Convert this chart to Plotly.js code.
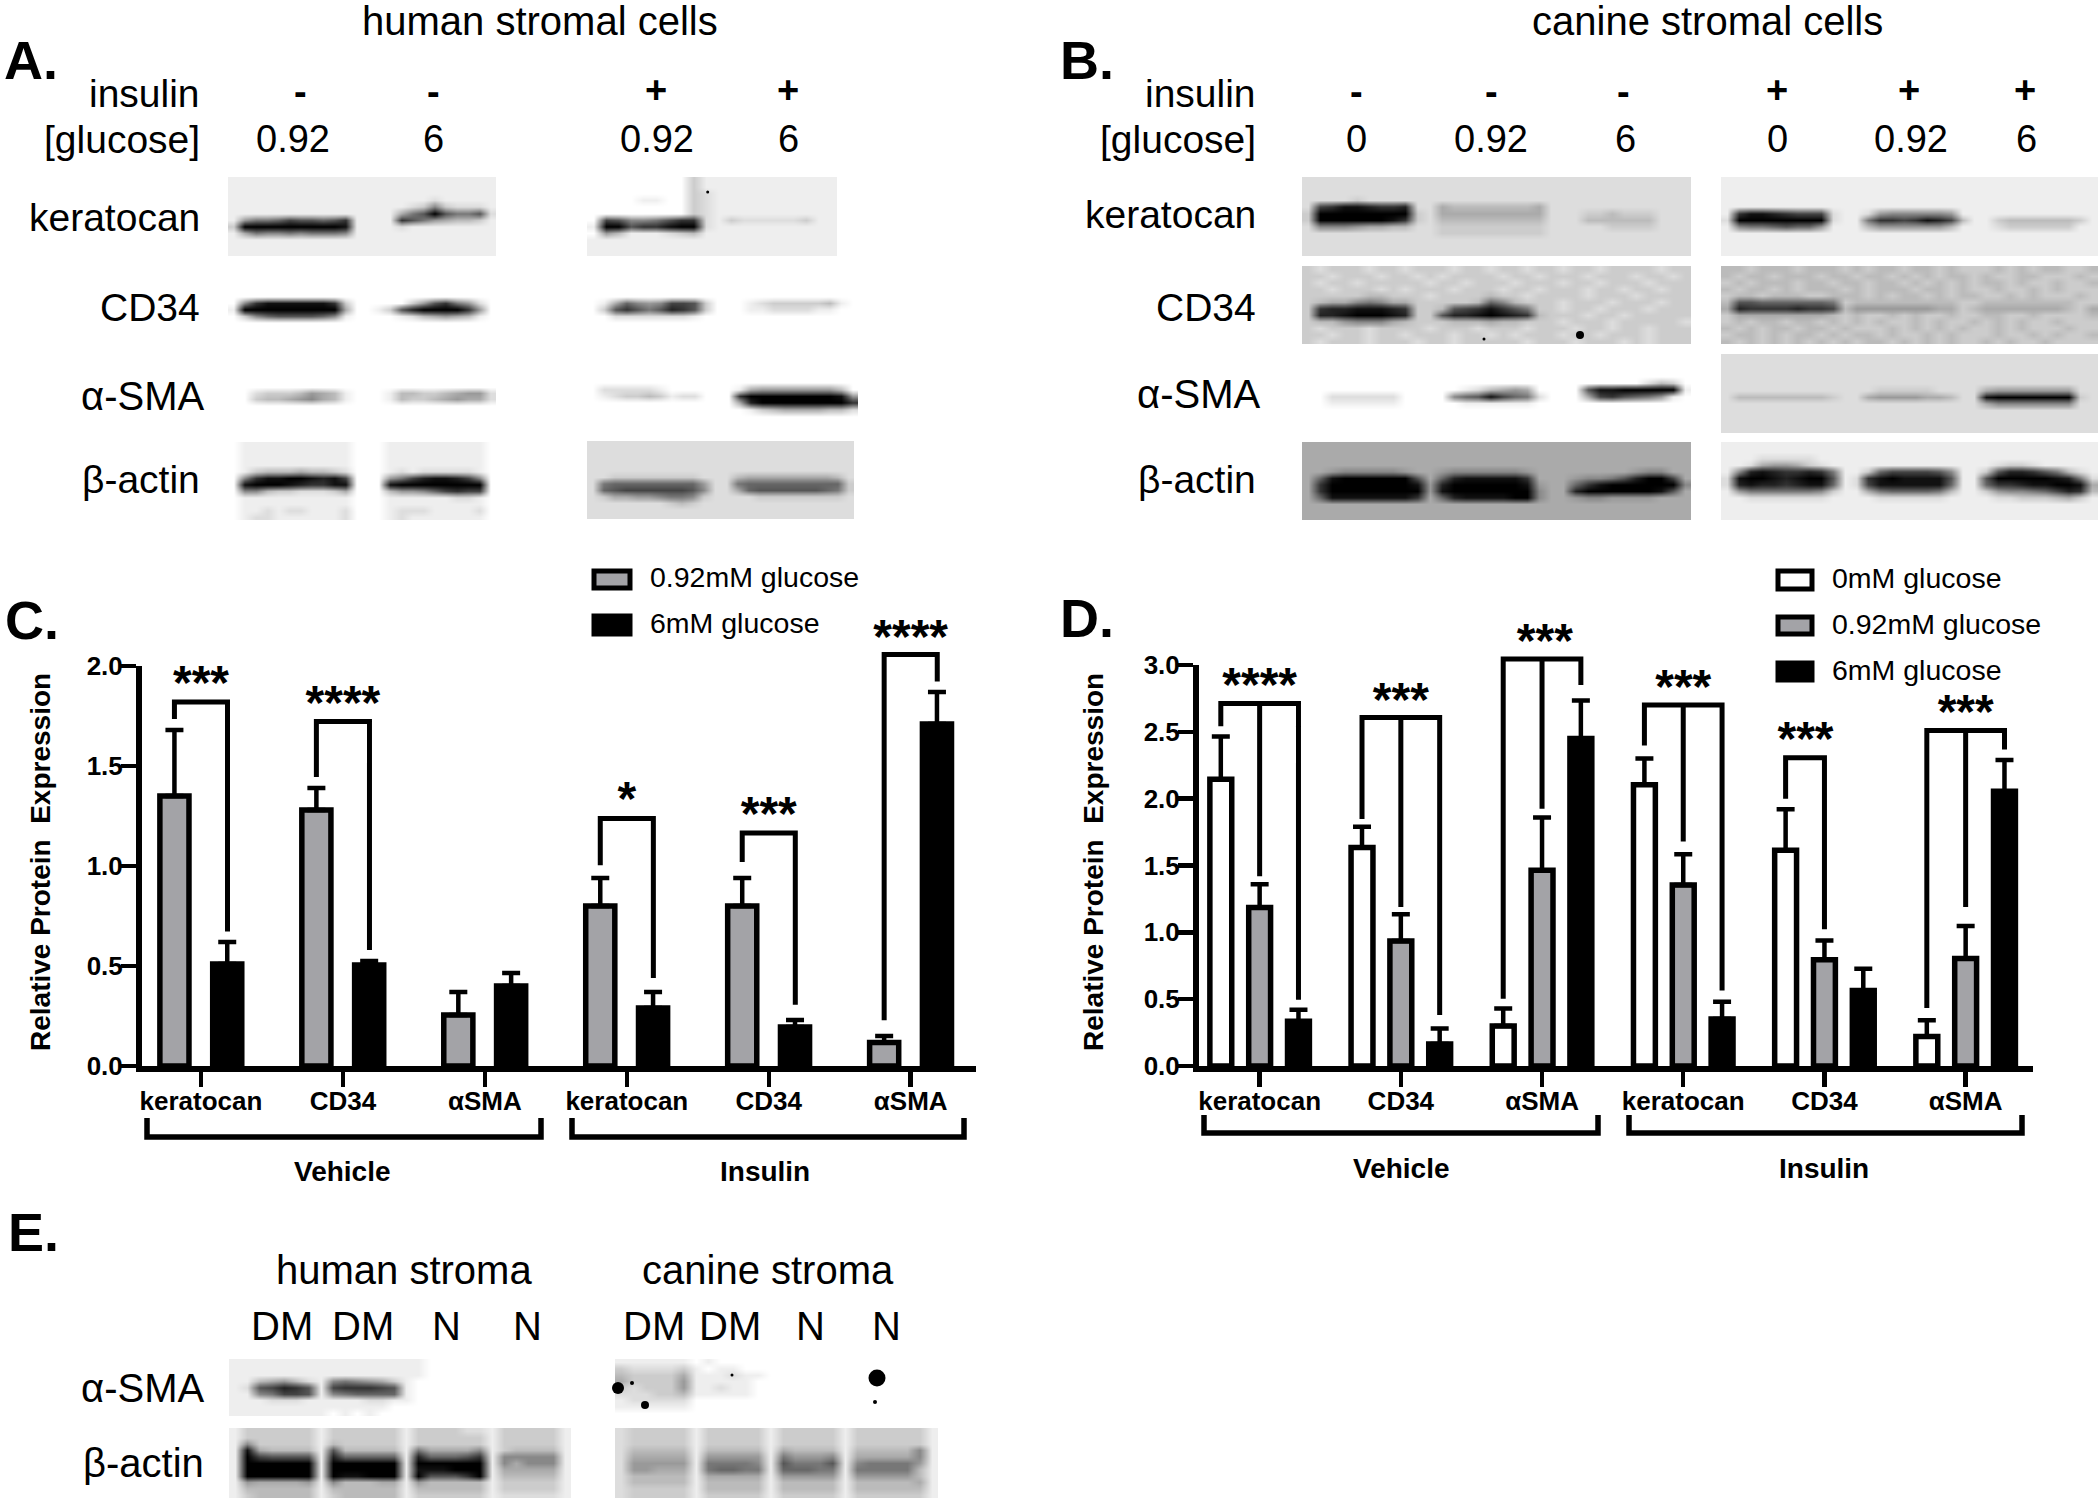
<!DOCTYPE html>
<html>
<head>
<meta charset="utf-8">
<script src="https://cdn.plot.ly/plotly-3.0.1.min.js"></script>
<style>html, body { margin: 0; background: #fff; }</style>
</head>
<body>
<div id="chart"></div>
<script>
// Stromal cell blots and densitometry bars

const W = 2100, H = 1500;

// ---- bar chart values, panel C (human) ----
const categories = ['keratocan', 'CD34', 'αSMA', 'keratocan', 'CD34', 'αSMA'];
const grayC = [1.35, 1.28, 0.255, 0.80, 0.80, 0.117];
const grayErrC = [0.33, 0.11, 0.115, 0.14, 0.14, 0.033];
const blackC = [0.51, 0.505, 0.40, 0.29, 0.195, 1.71];
const blackErrC = [0.11, 0.02, 0.065, 0.08, 0.035, 0.16];

// ---- bar chart values, panel D (canine) ----
const whiteD = [2.145, 1.635, 0.30, 2.105, 1.615, 0.22];
const whiteErrD = [0.32, 0.155, 0.13, 0.195, 0.305, 0.122];
const grayD = [1.185, 0.935, 1.465, 1.355, 0.795, 0.805];
const grayErrD = [0.175, 0.20, 0.395, 0.23, 0.143, 0.243];
const blackD = [0.335, 0.165, 2.45, 0.352, 0.565, 2.055];
const blackErrD = [0.085, 0.115, 0.285, 0.128, 0.162, 0.235];

// ---- significance brackets: category, leg ends, bracket top, stars ----
const bracketCatC = [0, 1, 3, 4, 5];
const bracketLeftC = [1.735, 1.445, 1.004, 1.02, 0.229];
const bracketTopC = [1.82, 1.722, 1.237, 1.165, 2.057];
const bracketRightC = [0.673, 0.58, 0.44, 0.306, 1.922];
const starTextC = ['***', '****', '*', '***', '****'];
const starYC = [1.953, 1.853, 1.371, 1.30, 2.184];

const bracketCatD = [0, 1, 2, 3, 4, 5];
const bracketLeftD = [2.541, 1.848, 0.504, 2.398, 2.0, 0.434];
const bracketTopD = [2.712, 2.608, 3.045, 2.70, 2.306, 2.51];
const bracketMidD = [1.42, 1.19, 1.924, 1.68, 1.023, 1.19];
const bracketRightD = [0.495, 0.382, 2.85, 0.565, null, 2.367];
const starTextD = ['****', '***', '***', '***', '***', '***'];
const starXD = [0, 1, 2.02, 3, 3.866, 5];
const starYD = [2.908, 2.798, 3.238, 2.892, 2.505, 2.703];

// ---- blot densities, one hex digit per cell, 0 black, f white ----
const aKeratocanMinus = [
  'eeeeee eeeeee eeeeee eeeeee', 'eeeeee eeeeee eeeeee eeeeee', 'eeeeee eeeeee eeeeee eeeeee',
  'eeeeee eeeeee eeeeee deeeee', 'eeeeee eeeeee eeeedc 8cddde', 'eeeeee eeeeee eeea75 05775d',
  'e97764 55653e eee357 9abbce', 'c00000 00001e eeedee eeeeee', 'ea7887 87778e eeeeee eeeeee',
  'eeeeee eeeeee eeeeee eeeeee', 'eeeeee eeeeee eeeeee eeeeee', 'eeeeee eeeeee eeeeee eeeeee'];
const aCd34Minus = [
  'ffffff ffffff ffffff ffffff', 'ffffff ffffff ffffff ffffff', 'ffffff ffffff ffffff ffffff',
  'ffffff ffffff ffffff ffffff', 'ffffff ffffff ffffff ffffff', 'f83111 1113cf ffffc9 5379df',
  'e00000 0000af fec520 00039f', 'fc8655 5568ef fffedb a9abef', 'ffffff ffffff ffffff ffffff',
  'ffffff ffffff ffffff ffffff', 'ffffff ffffff ffffff ffffff', 'ffffff ffffff ffffff ffffff'];
const aSmaMinus = [
  'ffffff ffffff ffffff ffffff', 'ffffff ffffff ffffff ffffff', 'ffffff ffffff ffffff ffffff',
  'ffffff ffffff ffffff ffffff', 'ffffff ffffff ffffff ffffff', 'ffffff ffffff ffffff ffffff',
  'ffdccc b9abef ffebbc cba99d', 'ffcbba 98abef ffebcc ba9aad', 'ffffff ffffff ffffff ffffff',
  'ffffff ffffff ffffff ffffff', 'ffffff ffffff ffffff ffffff', 'ffffff ffffff ffffff ffffff'];
const aActinMinus = [
  'feeeee eeeeef ffeeee eeeeef', 'feeeee eeeeef ffeeee eeeeef', 'feeeee eeeeef ffeeee eeeeef',
  'feeeee eeeeef ffeeee eeeeef', 'fecbbb abbcdf ffeded ddddef', 'f83110 01214f ff9742 11248f',
  'f10001 23311f ff1000 00000f', 'f88bcc dddcaf ffb998 64344f', 'feeeee eeeeef ffeeee eeddef',
  'feeeee eeeeef ffeeee eeeeef', 'feeded deeedf ffeddd eeeedf', 'feddee eeeedf ffedee eeeeef'];

const aKeratocanPlus = [
  'ffffffffce eeeeeeeeee', 'ffffffffce eeeeeeeeee', 'ffffffffcd eeeeeeeeee',
  'ffffeeffcd eeeeeeeeee', 'ffffffffcd eeeeeeeeee', 'ffffffffcd eeeeeeeeee',
  'f45887533d ecdddddcee', 'e00533100d eeeeeeeeee', 'f9beeedcbe eeeeeeeeee',
  'eeeeeeeeee eeeeeeeeee', 'eeeeeeeeee eeeeeeeeee', 'eeeeeeeeee eeeeeeeeee'];
const aCd34Plus = [
  'ffffff ffffff ffffff ffffff', 'ffffff ffffff ffffff ffffff', 'ffffff ffffff ffffff ffffff',
  'ffffff ffffff ffffff ffffff', 'ffffff ffffff ffffff ffffff', 'fea689 8445cf ffedcc cccbef',
  'fc5357 5235cf ffeedd ddeeff', 'ffdddd dddeff ffffff ffffff', 'ffffff ffffff ffffff ffffff',
  'ffffff ffffff ffffff ffffff', 'ffffff ffffff ffffff ffffff', 'ffffff ffffff ffffff ffffff'];
const aSmaPlus = [
  'ffffff ffffff ffffff ffffff', 'ffffff ffffff ffffff ffffff', 'ffffff ffffff ffffff ffffff',
  'ffffff ffffff ffffff ffffff', 'ffffff ffffff ffffff ffffff', 'fddddd efffff fea999 9999bf',
  'fedccb ceddff f30000 000019', 'ffffff ffffff fa2000 000003', 'ffffff ffffff ffecba aaabbd',
  'ffffff ffffff ffffff ffffff', 'ffffff ffffff ffffff ffffff', 'ffffff ffffff ffffff ffffff'];
const aActinPlus = [
  'dddddd dddddd dddddd dddddd', 'dddddd dddddd dddddd dddddd', 'dddddd dddddd dddddd dddddd',
  'dddddd dddddd dddddd dddddd', 'dddddd dddddd dddddd dddddd', 'ddcccc ccccdd dbaaaa aaaabd',
  'd76666 66669d d76666 66666c', 'd65444 44458d da6555 55567c', 'dcaa99 8778cd dddccc cccccd',
  'dddddd dcbcdd dddddd dddddd', 'dddddd dddddd dddddd dddddd', 'dddddd dddddd dddddd dddddd'];

const bKeratocanMinus = [
  'dddddddd dddddddd dddddddd dddddddd', 'dddddddd dddddddd dddddddd dddddddd', 'dddddddd dddddddd dddddddd dddddddd',
  'ddddcddd dddddddd dddddddd dddddddd', 'd4311233 2ddabbbb bbbadddd dddddddd', 'c0000000 0cdaaaaa aaaadddc cbcccddd',
  'c0000001 3cdbbbbb bbbbdddb bbbbbddd', 'd8889aab bddccccc ccccdddd dccccddd', 'dddddddd dddccccc ccccdddd dddddddd',
  'dddddddd dddddddd dddddddd dddddddd', 'dddddddd dddddddd dddddddd dddddddd', 'dddddddd dddddddd dddddddd dddddddd'];
const bCd34Minus = [
  'cdcccdcc dcccdccd ccdccdcc dccccdcc', 'ccdcccdc cdcdcccc dccdcccd cccdccdc', 'cdccdccc ccdccdcc cdcccdcc dcccdccc',
  'ccdcccdc dcccdccc dccdcccd ccdccdcc', 'cccccbbc ccdccccb ccdccccd cccdcccc', 'cbaa878a acccccb6 8bcccdcc cdcccdcc',
  'c3221112 3ccb5431 357ccdcc dcccdccc', 'c2210001 2cc52210 123bcccd ccdccccc', 'cbb9888a bcccbbba bbcccdcc cdcccccd',
  'cdcccdcc ccdcccdc ccdcccdc cdccdccc', 'ccdccdcc dcccdccd cdcccdcc dcccdccc', 'cdcccdcc cdccdccc ccdcccdc ccdcdccc'];
const bSmaMinus = [
  'ffffffff ffffffff ffffffff ffffffff', 'ffffffff ffffffff ffffffff ffffffff', 'ffffffff ffffffff ffffffff ffffffff',
  'ffffffff ffffffff ffffffff ffffffff', 'ffffffff ffffffff ffffffff ffffdbcf', 'ffffffff fffffedb a9affff5 1100000e',
  'ffdddddd ffff8651 467dfffa 435679ef', 'ffeeeeee fffffeee eeefffff ffffffff', 'ffffffff ffffffff ffffffff ffffffff',
  'ffffffff ffffffff ffffffff ffffffff', 'ffffffff ffffffff ffffffff ffffffff', 'ffffffff ffffffff ffffffff ffffffff'];
const bActinMinus = [
  'aaaaaaaa aaaaaaaa aaaaaaaa aaaaaaaa', 'aaaaaaaa aaaaaaaa aaaaaaaa aaaaaaaa', 'aaaaaaaa aaaaaaaa aaaaaaaa aaaaaaaa',
  'aaaaaaaa aaaaaaaa aaaaaaaa aaaaaaaa', 'aa988888 9aa98888 889aaaaa aaa988aa', 'a6100000 05a62111 113aaa98 8752004a',
  'a3000000 01920000 0019aa63 10000008', 'a3000000 00910000 0008aa20 0000015a', 'a6111111 13a62111 1008aa98 89999aaa',
  'aaaaaaaa aaaaaaaa aaaaaaaa aaaaaaaa', 'aaaaaaaa aaaaaaaa aaaaaaaa aaaaaaaa', 'aaaaaaaa aaaaaaaa aaaaaaaa aaaaaaaa'];

const bKeratocanPlus = [
  'eeeeeeee eeeeeeee eeeeeeee eeeeeeee', 'eeeeeeee eeeeeeee eeeeeeee eeeeeeee', 'eeeeeeee eeeeeeee eeeeeeee eeeeeeee',
  'eeeeeeee eeeeeeee eeeeeeee eeeeeeee', 'eeeeeeee eeeeeeee eeeeeeee eeeeeeee', 'e3112344 4deed988 8889eeee eeeeeeee',
  'd0000000 0dee7334 3124beec bbbbbbce', 'e8776566 9eeeb999 999beeed ccccccee', 'eeeeeeee eeeeeeee eeeeeeee eeeeeeee',
  'eeeeeeee eeeeeeee eeeeeeee eeeeeeee', 'eeeeeeee eeeeeeee eeeeeeee eeeeeeee', 'eeeeeeee eeeeeeee eeeeeeee eeeeeeee'];
const bCd34Plus = [
  'bbcbbbcb bbcbcbbc bbcbcccb cbcbbccb', 'bcbbcbbb cbbcbbcb cbcbbcbc cbbcccbc', 'cbcbbbcb bcbbcbbc bcbcbcbb cbccbccb',
  'bcbbcbcb bbcbcbbb cbbcbccb ccbcbccc', 'cbbcbbbc cbbbcbcb bcbcbbcc bcbcccbc', 'b5566666 67cbbbbb bbbbccbb bbbbbbcc',
  'a2333323 34b99999 99aacbaa aaaaabca', 'caaaaaaa abcbccbc bccbccbb ccbccccb', 'cbcbbcbb cbcbcbcc bcbccbcb cbccbccc',
  'bcbcbbcb bcbcccbc bcbcbccb cbcccbcc', 'cbbcbcbb cbcbbcbc cbcbcccb ccbcbccb', 'bcbcbcbc bcbcbbcb cbcbccbc bccbcccc'];
const bSmaPlus = [
  'dddddddd dddddddd dddddddd dddddddd', 'dddddddd dddddddd dddddddd dddddddd', 'dddddddd dddddddd dddddddd dddddddd',
  'dddddddd dddddddd dddddddd dddddddd', 'dddddddd dddddddd dddddddd dddddddd', 'dddddddd dddddccc ccdddda9 999999dd',
  'dbbbbbbb bcdda999 9aabdd10 000000cd', 'dddddddd dddddddd dddddda8 888888dd', 'dddddddd dddddddd dddddddd dddddddd',
  'dddddddd dddddddd dddddddd dddddddd', 'dddddddd dddddddd dddddddd dddddddd', 'dddddddd dddddddd dddddddd dddddddd'];
const bActinPlus = [
  'eeeeeeee eeeeeeee eeeeeeee eeeeeeee', 'eeeeeeee eeeeeeee eeeeeeee eeeeeeee', 'eeeddddd eeeeeeee eeeeeeee eeeeeeee',
  'eeda99ac deeeeeee eeeeeeed ccdeeeee', 'e8212332 37eec644 4458eec5 22357bde', 'd1001210 05ed3101 1115ee50 0000127d',
  'd2122321 16ed4111 1116ee63 3211001a', 'e9777777 8ceea766 667beec9 8876423b', 'eedddddd deeeeddd dddeeeed dcccbace',
  'eeeeeeee eeeeeeee eeeeeeee eeeeeeee', 'eeeeeeee eeeeeeee eeeeeeee eeeeeeee', 'eeeeeeee eeeeeeee eeeeeeee eeeeeeee'];

const eSmaHuman = [
  'eeeeeee eeeeeee eefffff fffffff', 'eeeeeee eeeeeee eefffff fffffff', 'eeeeeee eeeeeee eefffff fffffff',
  'eeba9bd e8789ac effffff fffffff', 'ed54235 e433345 effffff fffffff', 'ee87445 e876666 effffff fffffff',
  'eeeddde eeeedde effffff fffffff', 'eeeeeee eeeeeef fffffff fffffff', 'eeeeeee efefeff fffffff fffffff'];
const eActinHuman = [
  'e cccccc e cccccc e ccccdd e ccccc e', 'e cccccc e cccccc e cccccc e ccccc e', 'e 8ccccc e bccccc e cccccc e ccccc e',
  'e 1abbbb e 5bbbbb e 7aaaa8 e cbbbb e', 'e 045555 e 266666 e 266653 e 88888 e', 'e 000000 e 000000 e 000000 e 8a888 e',
  'e 000000 e 000000 e 111000 e aaaaa e', 'e 000000 e 011000 e 055530 e bbbbb e', 'e 9aaaa9 e 8bbbaa e 9bbbbb e ccccc e',
  'e bbbbbb e bbbbbb e bbbbbb e ccccc e', 'e cbbbbb e cbbbbb e cccccc e ddddd e'];
const eSmaCanine = [
  'eeeee efeff fffff fffff ffffff', 'cdddd cefee fffff fffff ffffff', 'bcccc aeeed eefff fffff ffffff',
  'acccc 9eeee effff fffff ffffff', 'cdccc 9eede effff fffff ffffff', 'dddcc beeee effff fffff ffffff',
  'edddd dffff fffff fffff ffffff', 'eeeee effff fffff fffff ffffff', 'fffff fffff fffff fffff ffffff'];
const eActinCanine = [
  'd ccccc e ccccc e ccccc e ccccc c e', 'd ccccc e ccccc e ccccc e ccccc c e', 'd ccccc e ccccc e ccccc e ccccc c e',
  'd bbbbb e bbbbb e abbbb e bbbbb 8 e', 'd aaaaa e 99999 e 79998 e aaaaa 8 e', 'd 99999 e 77778 e 57775 e 87777 9 e',
  'd 99aaa e 76677 e 66677 e 77777 b e', 'd bbbbb e aaaaa e 99999 e 99999 b e', 'd bbbbb e bbbbb e bbbbb e bbbbb a e',
  'd ccccc e bbbbb e bbbbb e bbbbb b e', 'd ccccc e ccccc e ccccc e ccccc c e'];

// small dark specks on the blots
const speckX = [707.7, 1580, 1484, 618, 632, 645, 732, 875, 877];
const speckY = [192, 335, 339, 1388, 1383, 1405, 1375, 1402, 1378];
const speckSize = [3, 8, 3, 12, 4, 8, 3, 4, 17];

// rows: [density table, left, top, right, bottom] in page pixels
const blots = [
  [aKeratocanMinus, 228, 177, 496, 256], [aCd34Minus, 228, 267, 496, 345],
  [aSmaMinus, 228, 353, 496, 427], [aActinMinus, 228, 442, 496, 520],
  [aKeratocanPlus, 587, 177, 837, 256], [aCd34Plus, 587, 267, 858, 345],
  [aSmaPlus, 587, 352, 858, 433], [aActinPlus, 587, 441, 854, 519],
  [bKeratocanMinus, 1302, 177, 1691, 256], [bCd34Minus, 1302, 266, 1691, 344],
  [bSmaMinus, 1302, 353, 1691, 433], [bActinMinus, 1302, 442, 1691, 520],
  [bKeratocanPlus, 1721, 177, 2098, 256], [bCd34Plus, 1721, 266, 2098, 344],
  [bSmaPlus, 1721, 354, 2098, 433], [bActinPlus, 1721, 442, 2098, 520],
  [eSmaHuman, 229, 1359, 571, 1416], [eActinHuman, 229, 1428, 571, 1498],
  [eSmaCanine, 615, 1359, 938, 1416], [eActinCanine, 615, 1428, 938, 1498]
];

// text: [string, x, y, size, anchor, bold]
const texts = [
  ['human stromal cells', 540, 21, 40, 'center'], ['canine stromal cells', 1707, 21, 40, 'center'],
  ['A.', 2, 60, 54, 'left', 1], ['B.', 1058, 60, 54, 'left', 1], ['C.', 3, 620, 54, 'left', 1],
  ['D.', 1058, 618, 54, 'left', 1], ['E.', 6, 1232, 54, 'left', 1],
  ['insulin', 202, 94, 39, 'right'], ['[glucose]', 202, 139, 39, 'right'],
  ['-', 300, 92, 38, 'center', 1], ['-', 433, 92, 38, 'center', 1], ['+', 656, 90, 38, 'center', 1], ['+', 788, 90, 38, 'center', 1],
  ['0.92', 293, 139, 38, 'center'], ['6', 433, 139, 38, 'center'], ['0.92', 657, 139, 38, 'center'], ['6', 788, 139, 38, 'center'],
  ['keratocan', 202, 218, 39, 'right'], ['CD34', 202, 307, 39, 'right'], ['α-SMA', 206, 396, 40, 'right'], ['β-actin', 202, 479, 39, 'right'],
  ['insulin', 1258, 94, 39, 'right'], ['[glucose]', 1258, 139, 39, 'right'],
  ['-', 1356, 92, 38, 'center', 1], ['-', 1491, 92, 38, 'center', 1], ['-', 1623, 92, 38, 'center', 1],
  ['+', 1777, 90, 38, 'center', 1], ['+', 1909, 90, 38, 'center', 1], ['+', 2025, 90, 38, 'center', 1],
  ['0', 1356, 139, 38, 'center'], ['0.92', 1491, 139, 38, 'center'], ['6', 1625, 139, 38, 'center'],
  ['0', 1777, 139, 38, 'center'], ['0.92', 1911, 139, 38, 'center'], ['6', 2026, 139, 38, 'center'],
  ['keratocan', 1258, 215, 39, 'right'], ['CD34', 1258, 307, 39, 'right'], ['α-SMA', 1262, 394, 40, 'right'], ['β-actin', 1258, 479, 39, 'right'],
  ['human stroma', 404, 1270, 40, 'center'], ['canine stroma', 768, 1270, 40, 'center'],
  ['DM', 282, 1326, 40, 'center'], ['DM', 363, 1326, 40, 'center'], ['N', 446, 1326, 40, 'center'], ['N', 527, 1326, 40, 'center'],
  ['DM', 654, 1326, 40, 'center'], ['DM', 730, 1326, 40, 'center'], ['N', 810, 1326, 40, 'center'], ['N', 886, 1326, 40, 'center'],
  ['α-SMA', 206, 1388, 40, 'right'], ['β-actin', 206, 1463, 40, 'right'],
  ['Vehicle', 342, 1171, 28, 'center', 1], ['Insulin', 765, 1171, 28, 'center', 1],
  ['Vehicle', 1401, 1168, 28, 'center', 1], ['Insulin', 1824, 1168, 28, 'center', 1],
  ['0.92mM glucose', 648, 577, 28.5, 'left'], ['6mM glucose', 648, 623, 28.5, 'left'],
  ['0mM glucose', 1830, 578, 28.5, 'left'], ['0.92mM glucose', 1830, 624, 28.5, 'left'], ['6mM glucose', 1830, 670, 28.5, 'left']
];

const FONT = '"Liberation Sans", Arial, sans-serif';
const GRAY = '#a3a3a7';

function toCells(rows) {
  return rows.map(r => Array.from(r.replace(/ /g, ''), c => parseInt(c, 16)));
}

function blotTrace(b) {
  let z = toCells(b[0]);
  z.forEach((row, i) => {
    if (row.length !== z[0].length || row.some(isNaN)) throw new Error('bad blot row ' + i + ': ' + b[0][i]);
  });
  let dx = (b[3] - b[1]) / z[0].length, dy = (b[4] - b[2]) / z.length;
  return {
    type: 'heatmap', z: z, x0: b[1] + dx / 2, dx: dx, y0: b[2] + dy / 2, dy: dy,
    zmin: 0, zmax: 15, zsmooth: 'best', showscale: false, hoverinfo: 'skip',
    colorscale: [[0, '#000'], [1, '#fff']], xaxis: 'x', yaxis: 'y'
  };
}

function barTrace(axis, y, err, fill, center, width) {
  return {
    type: 'bar', x: [0, 1, 2, 3, 4, 5], y: y, width: width, offset: center - width / 2,
    marker: {color: fill, line: {color: '#000', width: 5.5}},
    error_y: {type: 'data', symmetric: false, array: err, arrayminus: err.map(() => 0), color: '#000', thickness: 4.5, width: 9},
    xaxis: 'x' + axis, yaxis: 'y' + axis, hoverinfo: 'skip', showlegend: false
  };
}

// brackets and stars go on a taller hidden y axis, they rise above the drawn axis
function bracketTrace(xAxis, yAxis, x, y) {
  return {
    type: 'scatter', mode: 'lines', x: x, y: y, xaxis: xAxis, yaxis: yAxis,
    line: {color: '#000', width: 5}, cliponaxis: false, hoverinfo: 'skip', showlegend: false
  };
}

function starTrace(xAxis, yAxis, x, y, text, drop) {
  return {
    type: 'scatter', mode: 'text', x: x, y: y.map(v => v - drop), text: text, textposition: 'middle center',
    textfont: {family: FONT, size: 48, color: '#000', weight: 700},
    xaxis: xAxis, yaxis: yAxis, cliponaxis: false, hoverinfo: 'skip', showlegend: false
  };
}

function bracketsC() {
  return bracketCatC.map((c, i) => bracketTrace('x2', 'y4',
    [c - 0.187, c - 0.187, c + 0.187, c + 0.187],
    [bracketLeftC[i], bracketTopC[i], bracketTopC[i], bracketRightC[i]]));
}

function bracketsD() {
  return bracketCatD.map((c, i) => {
    // the fifth bracket only spans white to gray
    if (bracketRightD[i] === null) {
      return bracketTrace('x3', 'y5', [c - 0.275, c - 0.275, c, c], [bracketLeftD[i], bracketTopD[i], bracketTopD[i], bracketMidD[i]]);
    }
    return bracketTrace('x3', 'y5',
      [c - 0.275, c - 0.275, c + 0.275, c + 0.275, null, c, c],
      [bracketLeftD[i], bracketTopD[i], bracketTopD[i], bracketRightD[i], null, bracketTopD[i], bracketMidD[i]]);
  });
}

const px = x => x / W;
const py = y => 1 - y / H;

function chartAxes(left, right, top, bottom, xRange, yMax, axis) {
  let common = {showgrid: false, zeroline: false, showline: true, linecolor: '#000', linewidth: 5.5,
    ticks: 'outside', tickcolor: '#000', tickwidth: 4.5, ticklen: 15};
  return [
    Object.assign({}, common, {
      domain: [px(left), px(right)], range: xRange, anchor: 'y' + axis,
      tickvals: [0, 1, 2, 3, 4, 5], ticktext: categories, ticklabelstandoff: -8,
      tickfont: {family: FONT, size: 26, color: '#000', weight: 700}
    }),
    Object.assign({}, common, {
      domain: [py(bottom), py(top)], range: [0, yMax], anchor: 'x' + axis,
      dtick: 0.5, tickformat: '.1f', ticklabelstandoff: -7,
      tickfont: {family: FONT, size: 26, color: '#000', weight: 700}
    })
  ];
}

function groupBracket(x0, x1, y0, y1) {
  return {
    type: 'path', xref: 'paper', yref: 'paper',
    path: `M ${px(x0)} ${py(y0)} L ${px(x0)} ${py(y1)} L ${px(x1)} ${py(y1)} L ${px(x1)} ${py(y0)}`,
    line: {color: '#000', width: 5.5}
  };
}

function swatch(x0, x1, y0, y1, fill) {
  return {
    type: 'rect', xref: 'paper', yref: 'paper', x0: px(x0), x1: px(x1), y0: py(y1), y1: py(y0),
    fillcolor: fill, line: {color: '#000', width: 5}
  };
}

function main() {
  let traces = blots.map(blotTrace);
  traces.push({
    type: 'scatter', mode: 'markers', x: speckX, y: speckY, xaxis: 'x', yaxis: 'y',
    marker: {color: '#000', opacity: 1, size: speckSize, line: {width: 0}}, hoverinfo: 'skip', showlegend: false
  });

  traces.push(barTrace(2, grayC, grayErrC, GRAY, -0.187, 0.205));
  traces.push(barTrace(2, blackC, blackErrC, '#000', 0.185, 0.205));
  traces.push(...bracketsC());
  traces.push(starTrace('x2', 'y4', bracketCatC, starYC, starTextC, 0.0575));

  traces.push(barTrace(3, whiteD, whiteErrD, '#fff', -0.275, 0.155));
  traces.push(barTrace(3, grayD, grayErrD, GRAY, 0, 0.155));
  traces.push(barTrace(3, blackD, blackErrD, '#000', 0.275, 0.155));
  traces.push(...bracketsD());
  traces.push(starTrace('x3', 'y5', starXD, starYD, starTextD, 0.086));

  let [x2, y2] = chartAxes(141.5, 976, 666, 1066, [-0.419, 5.46], 2, 2);
  let [x3, y3] = chartAxes(1198.5, 2033, 665, 1066, [-0.433, 5.477], 3, 3);

  // same scales as y2 and y3, 506 px tall so the tallest bracket and its stars fit
  let y4 = {domain: [py(1066), py(560)], range: [0, 506 / 200], anchor: 'x2', visible: false};
  let y5 = {domain: [py(1066), py(560)], range: [0, 506 / (401 / 3)], anchor: 'x3', visible: false};

  let annotations = texts.map(t => ({
    text: t[0], xref: 'paper', yref: 'paper', x: px(t[1]), y: py(t[2]),
    xanchor: t[4], yanchor: 'middle', showarrow: false,
    font: {family: FONT, size: t[3], color: '#000', weight: t[5] ? 700 : 400}
  }));
  [[40, 862], [1093, 862]].forEach(p => annotations.push({
    text: 'Relative Protein  Expression', xref: 'paper', yref: 'paper', x: px(p[0]), y: py(p[1]),
    textangle: -90, showarrow: false, xanchor: 'center', yanchor: 'middle',
    font: {family: FONT, size: 28, color: '#000', weight: 700}
  }));

  let shapes = [
    groupBracket(147, 541, 1118, 1137), groupBracket(572, 964, 1118, 1137),
    groupBracket(1204, 1598, 1115, 1133), groupBracket(1629, 2022, 1115, 1133),
    swatch(594, 630, 571, 588, GRAY), swatch(594, 630, 616, 634, '#000'),
    swatch(1778, 1812, 571, 589, '#fff'), swatch(1778, 1812, 617, 634, GRAY), swatch(1778, 1812, 663, 680, '#000')
  ];

  let layout = {
    width: W, height: H, margin: {l: 0, r: 0, t: 0, b: 0}, autosize: false,
    paper_bgcolor: '#fff', plot_bgcolor: 'rgba(0,0,0,0)', showlegend: false,
    font: {family: FONT, color: '#000'}, barmode: 'group',
    xaxis: {domain: [0, 1], range: [0, W], visible: false, fixedrange: true},
    yaxis: {domain: [0, 1], range: [H, 0], visible: false, fixedrange: true},
    xaxis2: x2, yaxis2: y2, xaxis3: x3, yaxis3: y3, yaxis4: y4, yaxis5: y5,
    annotations: annotations, shapes: shapes
  };

  Plotly.newPlot('chart', traces, layout, {displayModeBar: false, staticPlot: true});
}

window.onload = main;
</script>
</body>
</html>
